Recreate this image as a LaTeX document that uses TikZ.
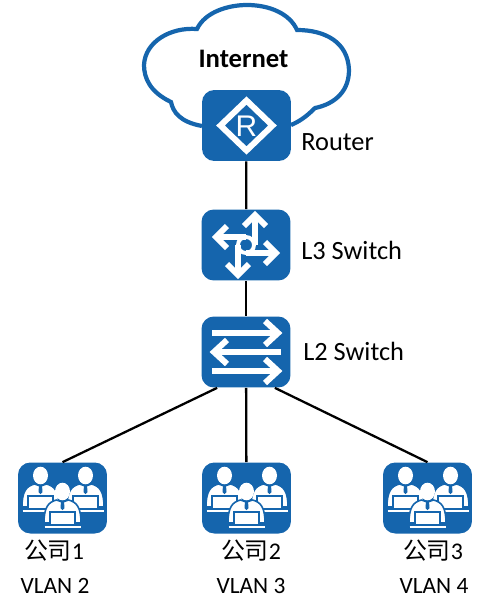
\documentclass[tikz,border=0pt]{standalone}
\usepackage{fontspec}
\setmainfont{Carlito}
\newfontfamily\cjkfont{Noto Sans CJK SC}
\newfontfamily\iconfont{Liberation Sans}
\definecolor{hwblue}{HTML}{1565AD}
\tikzset{
  device/.style={draw=none,fill=hwblue,rounded corners=7pt,minimum width=1.78cm,minimum height=1.42cm,inner sep=0pt},
  devlabel/.style={font=\fontsize{15}{16}\selectfont,anchor=west,inner sep=0pt},
  vlanlabel/.style={font=\fontsize{13.3}{14}\selectfont,inner sep=0pt},
  corplabel/.style={font=\fontsize{13.6}{15}\selectfont,inner sep=0pt},
  link/.style={line width=1.3pt,black},
  iconline/.style={draw=white,line width=3.4pt},
  routerpic/.pic={
    \draw[white,line width=3.4pt,miter limit=10] (-26,0) -- (0,-25) -- (26,0) -- (0,25) -- cycle;
    \node (rlabel) [white,inner sep=0pt,font=\iconfont\fontsize{17}{17}\selectfont] at (0,1) {R};
  },
  l3pic/.pic={
    \draw[white,line width=2.2pt] (0,0) circle (8);
    \draw[iconline] (9,0) -- (9,-28);
    \draw[iconline] (0,-8) -- (-29,-8);
    \draw[iconline] (-8,0) -- (-8,28);
    \draw[iconline] (0,8) -- (29,8);
    \draw[iconline,line join=miter] (-2,-19) -- (9,-30) -- (20,-19);
    \draw[iconline,line join=miter] (-19,-19) -- (-30,-8) -- (-19,3);
    \draw[iconline,line join=miter] (-19,19) -- (-8,30) -- (3,19);
    \draw[iconline,line join=miter] (19,-3) -- (30,8) -- (19,19);
  },
  l2pic/.pic={
    \draw[iconline,line width=3.8pt] (-34,-19) -- (32,-19);
    \draw[iconline,line width=3.8pt] (35,0) -- (-32,0);
    \draw[iconline,line width=3.8pt] (-34,19) -- (32,19);
    \draw[iconline,line join=miter] (19,-31) -- (32,-19) -- (19,-7);
    \draw[iconline,line join=miter] (-19,-12) -- (-32,0) -- (-19,12);
    \draw[iconline,line join=miter] (19,7) -- (32,19) -- (19,31);
  },
  personpic/.pic={
    \fill[white] (0,-18.5) ellipse (7.5 and 8.8);
    \filldraw[fill=white,draw=hwblue,line width=.9pt] (-18.5,13) .. controls (-18.5,-3) and (-14,-8) .. (-6,-10) -- (0,-8) -- (6,-10) .. controls (14,-8) and (18.5,-3) .. (18.5,13) -- cycle;
    \fill[hwblue] (-1.5,-9) -- (1.5,-9) -- (2,-2) -- (0,0) -- (-2,-2) -- cycle;
    \filldraw[fill=white,draw=hwblue,line width=.6pt] (-12.5,2) rectangle (12.5,15);
    \draw[white,line width=1pt] (-18,17) -- (18,17);
  },
  userspic/.pic={
    \pic at (-22,-4) {personpic};
    \pic at (23,-4) {personpic};
    \pic at (0,12) {personpic};
  },
}
\begin{document}
\begin{tikzpicture}[x=0.02cm,y=-0.02cm]
  \useasboundingbox (0,0) rectangle (490,609);
  % cloud
  \draw[hwblue,line width=2.4pt] (202,126) .. controls (180,122) and (173,112) .. (171,102)
    .. controls (150,92) and (144,78) .. (144,65)
    .. controls (145,42) and (170,27) .. (197,29)
    .. controls (205,12) and (228,5) .. (247,5)
    .. controls (270,5) and (290,14) .. (297,30)
    .. controls (325,30) and (348,42) .. (349,70)
    .. controls (349,95) and (330,105) .. (315,108)
    .. controls (305,118) and (298,122) .. (291,125);
  \node (internet) [font=\bfseries\fontsize{15.2}{16}\selectfont,inner sep=0pt] at (243.5,59) {Internet};
  % devices
  \node (router) [device] at (246.5,125.5) {};
  \node (l3sw) [device] at (246,245) {};
  \node (l2sw) [device] at (246,352) {};
  \node (corp1) [device] at (62.5,498) {};
  \node (corp2) [device] at (246.5,498) {};
  \node (corp3) [device] at (427.5,498) {};
  \pic at (router) {routerpic};
  \pic at (l3sw) {l3pic};
  \pic at (l2sw) {l2pic};
  \pic at (corp1) {userspic};
  \pic at (corp2) {userspic};
  \pic at (corp3) {userspic};
  % links
  \draw[link] (router) -- (l3sw);
  \draw[link] (l3sw) -- (l2sw);
  \draw[link] (l2sw) -- (corp2);
  \draw[link] (l2sw.south west) ++(16,0) coordinate (l2a) (corp1.north) coordinate (c1a);
  \draw[link] (l2a) -- (c1a);
  \draw[link] (l2sw.south east) ++(-16,0) coordinate (l2b) (corp3.north) coordinate (c3a);
  \draw[link] (l2b) -- (c3a);
  % labels
  \node (routerlbl) [devlabel] at (301,142) {Router};
  \node (l3lbl) [devlabel] at (301,250) {L3 Switch};
  \node (l2lbl) [devlabel] at (303,351) {L2 Switch};
  \node (c1lbl) [corplabel] at (54,551) {{\cjkfont 公司}1};
  \node (c2lbl) [corplabel] at (251,551) {{\cjkfont 公司}2};
  \node (c3lbl) [corplabel] at (433,551) {{\cjkfont 公司}3};
  \node (v2lbl) [vlanlabel] at (55,586) {VLAN 2};
  \node (v3lbl) [vlanlabel] at (251,586) {VLAN 3};
  \node (v4lbl) [vlanlabel] at (434,586) {VLAN 4};
\end{tikzpicture}
\end{document}
